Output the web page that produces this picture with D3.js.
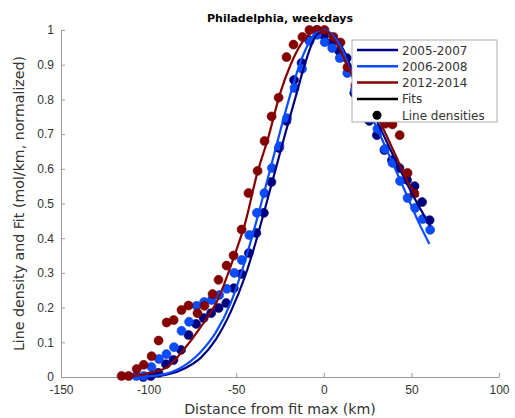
<!DOCTYPE html>
<html lang="en">
<head>
    <meta charset="UTF-8">
    <title>Philadelphia, weekdays</title>
    <script src="https://cdnjs.cloudflare.com/ajax/libs/d3/7.8.5/d3.min.js"></script>
    <style>
        body {
            margin: 0;
            padding: 0;
            background: #fff;
            font-family: "DejaVu Sans", sans-serif;
        }
        svg { display: block; }
        .tick text { fill: #333; font-size: 12px; }
        .axis path, .axis line { stroke: #999; }
        .label { fill: #333; font-size: 14.2px; }
        .legend text { fill: #333; font-size: 12px; }
    </style>
</head>
<body>
    <svg width="515" height="418"></svg>
    <script>
        // series names + colors
        const seriesNames = ["2005-2007", "2006-2008", "2012-2014"];
        const seriesColors = ["#00007f", "#0a4cff", "#870000"];

        // line density points (km from fit max, normalized)
        const navyX = [-103, -98.7, -94.4, -90.1, -85.8, -81.5, -77.2, -72.9, -68.6, -64.3, -60, -55.7, -51.4, -47.1, -42.8, -38.5, -34.2, -29.9, -25.6, -21.3, -17, -12.7, -8.4, -4.1, 0.2, 4.5, 8.8, 13.1, 17.4, 21.7, 26, 30.3, 34.6, 38.9, 43.2, 47.5, 51.8, 56.1, 60.4];
        const navyY = [0.0, 0.003, 0.012, 0.037, 0.049, 0.078, 0.121, 0.153, 0.17, 0.184, 0.199, 0.213, 0.256, 0.297, 0.357, 0.415, 0.473, 0.562, 0.66, 0.738, 0.856, 0.905, 0.971, 1.0, 0.983, 0.965, 0.939, 0.919, 0.818, 0.784, 0.738, 0.697, 0.654, 0.625, 0.602, 0.568, 0.55, 0.504, 0.452];

        const blueX = [-107, -102.7, -98.4, -94.1, -89.8, -85.5, -81.2, -76.9, -72.6, -68.3, -64, -59.7, -55.4, -51.1, -46.8, -42.5, -38.2, -33.9, -29.6, -25.3, -21, -16.7, -12.4, -8.1, -3.8, 0.5, 4.8, 9.1, 13.4, 17.7, 22, 26.3, 30.6, 34.9, 39.2, 43.5, 47.8, 52.1, 56.4, 60.7];
        const blueY = [0.003, 0.003, 0.029, 0.052, 0.066, 0.086, 0.133, 0.159, 0.205, 0.216, 0.222, 0.236, 0.254, 0.3, 0.337, 0.409, 0.473, 0.53, 0.602, 0.665, 0.746, 0.833, 0.888, 0.968, 0.986, 0.965, 0.948, 0.919, 0.876, 0.827, 0.784, 0.746, 0.715, 0.657, 0.617, 0.565, 0.516, 0.487, 0.455, 0.424];

        const redX = [-115.4, -111.4, -106.8, -102.8, -98.3, -94.3, -89.7, -85.7, -81.2, -77.2, -72.1, -68.1, -63.5, -60.1, -55.5, -51.5, -46.9, -43, -37.8, -33.8, -29.8, -25.8, -21.3, -17.3, -12.2, -8.2, -3.6, 0.4, 5.5, 9.5, 13.5, 18, 22, 26.6, 30.6, 35.2, 39.2, 43.3, 47.8, 51.7];
        const redY = [0.003, 0.003, 0.023, 0.035, 0.06, 0.105, 0.157, 0.164, 0.193, 0.206, 0.184, 0.205, 0.239, 0.28, 0.321, 0.35, 0.425, 0.53, 0.594, 0.68, 0.751, 0.805, 0.922, 0.958, 0.98, 1.0, 1.0, 1.0, 0.98, 0.964, 0.893, 0.84, 0.8, 0.77, 0.75, 0.73, 0.728, 0.697, 0.588, 0.529];

        // fitted curves
        const navyFitX = [-104.6, -90.3, -78.9, -70.3, -61.8, -53.2, -44.7, -39, -33.3, -27.6, -21.9, -16.1, -10.4, -5.9, -0.7, 3.8, 10.7, 18.1, 29.5, 40.9, 52.3, 60.8];
        const navyFitY = [0, 0.006, 0.026, 0.055, 0.107, 0.187, 0.294, 0.386, 0.49, 0.597, 0.703, 0.807, 0.908, 0.971, 1.0, 0.991, 0.948, 0.862, 0.746, 0.625, 0.51, 0.435];

        const blueFitX = [-106.8, -93.2, -81.8, -70.3, -61.8, -53.2, -47.5, -41.8, -36.1, -30.4, -24.7, -19, -13.3, -7.6, -3, 0.4, 4.9, 10.7, 18.1, 29.5, 38, 46.6, 54, 60.3];
        const blueFitY = [0, 0.006, 0.026, 0.072, 0.127, 0.213, 0.294, 0.389, 0.493, 0.602, 0.712, 0.816, 0.908, 0.971, 0.997, 1.0, 0.986, 0.942, 0.841, 0.726, 0.631, 0.533, 0.447, 0.383];

        const redFitX = [-115.4, -109, -98.9, -89.2, -80.1, -70.3, -60.6, -51.5, -44.7, -37.8, -32.1, -24.7, -19, -13.3, -7.6, -3, 2.1, 7.8, 15.2, 23.8, 32.3, 40.9, 48.3, 54];
        const redFitY = [0, 0.003, 0.012, 0.029, 0.078, 0.144, 0.222, 0.343, 0.447, 0.591, 0.683, 0.821, 0.899, 0.957, 0.991, 1.0, 0.994, 0.957, 0.879, 0.804, 0.732, 0.64, 0.559, 0.519];

        const xTicks = [-150, -100, -50, 0, 50, 100];
        const yTicks = [0, 0.1, 0.2, 0.3, 0.4, 0.5, 0.6, 0.7, 0.8, 0.9, 1];

        const points = [[navyX, navyY], [blueX, blueY], [redX, redY]];
        const fits = [[navyFitX, navyFitY], [blueFitX, blueFitY], [redFitX, redFitY]];

        const svg = d3.select("svg");
        const margin = { left: 61, right: 16, top: 30, bottom: 41 };
        const width = 515, height = 418;

        const x = d3.scaleLinear().domain([-150, 100]).range([margin.left, width - margin.right]);
        const y = d3.scaleLinear().domain([0, 1]).range([height - margin.bottom, margin.top]);

        // axes (ticks point inward, matlab style)
        svg.append("g")
            .attr("class", "axis")
            .attr("transform", `translate(0,${y(0)})`)
            .call(d3.axisBottom(x).tickValues(xTicks).tickSizeInner(-4).tickSizeOuter(0).tickPadding(8)
                .tickFormat(d3.format("d")))
            .call(g => g.selectAll(".tick text").text(d => d < 0 ? "-" + Math.abs(d) : d));

        svg.append("g")
            .attr("class", "axis")
            .attr("transform", `translate(${x(-150)},0)`)
            .call(d3.axisLeft(y).tickValues(yTicks).tickSizeInner(-4).tickSizeOuter(0).tickPadding(7)
                .tickFormat(d => d === 0 || d === 1 ? d : d.toFixed(1)));

        svg.selectAll(".axis .domain").attr("stroke", "#999");

        // data points
        const dots = svg.append("g");
        points.forEach((p, i) => {
            dots.selectAll(null)
                .data(p[0].map((v, j) => [v, p[1][j]]))
                .enter().append("circle")
                .attr("cx", d => x(d[0]))
                .attr("cy", d => y(d[1]))
                .attr("r", 4.5)
                .attr("fill", seriesColors[i])
                .attr("stroke", d3.color(seriesColors[i]).darker(0.6))
                .attr("stroke-width", 0.6);
        });

        // fit curves
        const line = d3.line().x(d => x(d[0])).y(d => y(d[1])).curve(d3.curveMonotoneX);
        fits.forEach((f, i) => {
            svg.append("path")
                .datum(f[0].map((v, j) => [v, f[1][j]]))
                .attr("d", line)
                .attr("fill", "none")
                .attr("stroke", seriesColors[i])
                .attr("stroke-width", 2.2);
        });

        // title + axis labels
        svg.append("text")
            .attr("x", 280).attr("y", 22)
            .attr("text-anchor", "middle")
            .attr("font-weight", "bold")
            .attr("font-size", 11)
            .attr("fill", "#000")
            .text("Philadelphia, weekdays");

        svg.append("text")
            .attr("class", "label")
            .attr("x", 280).attr("y", 414)
            .attr("text-anchor", "middle")
            .text("Distance from fit max (km)");

        svg.append("text")
            .attr("class", "label")
            .attr("transform", `translate(24,${(y(0) + y(1)) / 2}) rotate(-90)`)
            .attr("text-anchor", "middle")
            .text("Line density and Fit (mol/km, normalized)");

        // legend
        const legend = svg.append("g").attr("class", "legend").attr("transform", "translate(352,40)");
        legend.append("rect")
            .attr("width", 145).attr("height", 82)
            .attr("fill", "#fff").attr("stroke", "#999").attr("stroke-width", 0.8);

        const legendItems = seriesNames.map((n, i) => ({ name: n, color: seriesColors[i], type: "line" }))
            .concat([{ name: "Fits", color: "#000", type: "line" }, { name: "Line densities", color: "#000", type: "dot" }]);

        legendItems.forEach((d, i) => {
            const ly = 10 + i * 16.3;
            if (d.type === "line") {
                legend.append("line")
                    .attr("x1", 5).attr("x2", 46).attr("y1", ly).attr("y2", ly)
                    .attr("stroke", d.color).attr("stroke-width", 2.5);
            } else {
                legend.append("circle")
                    .attr("cx", 25).attr("cy", ly).attr("r", 4.5).attr("fill", d.color);
            }
            legend.append("text")
                .attr("x", 50).attr("y", ly + 4.5)
                .text(d.name);
        });
    </script>
</body>
</html>
